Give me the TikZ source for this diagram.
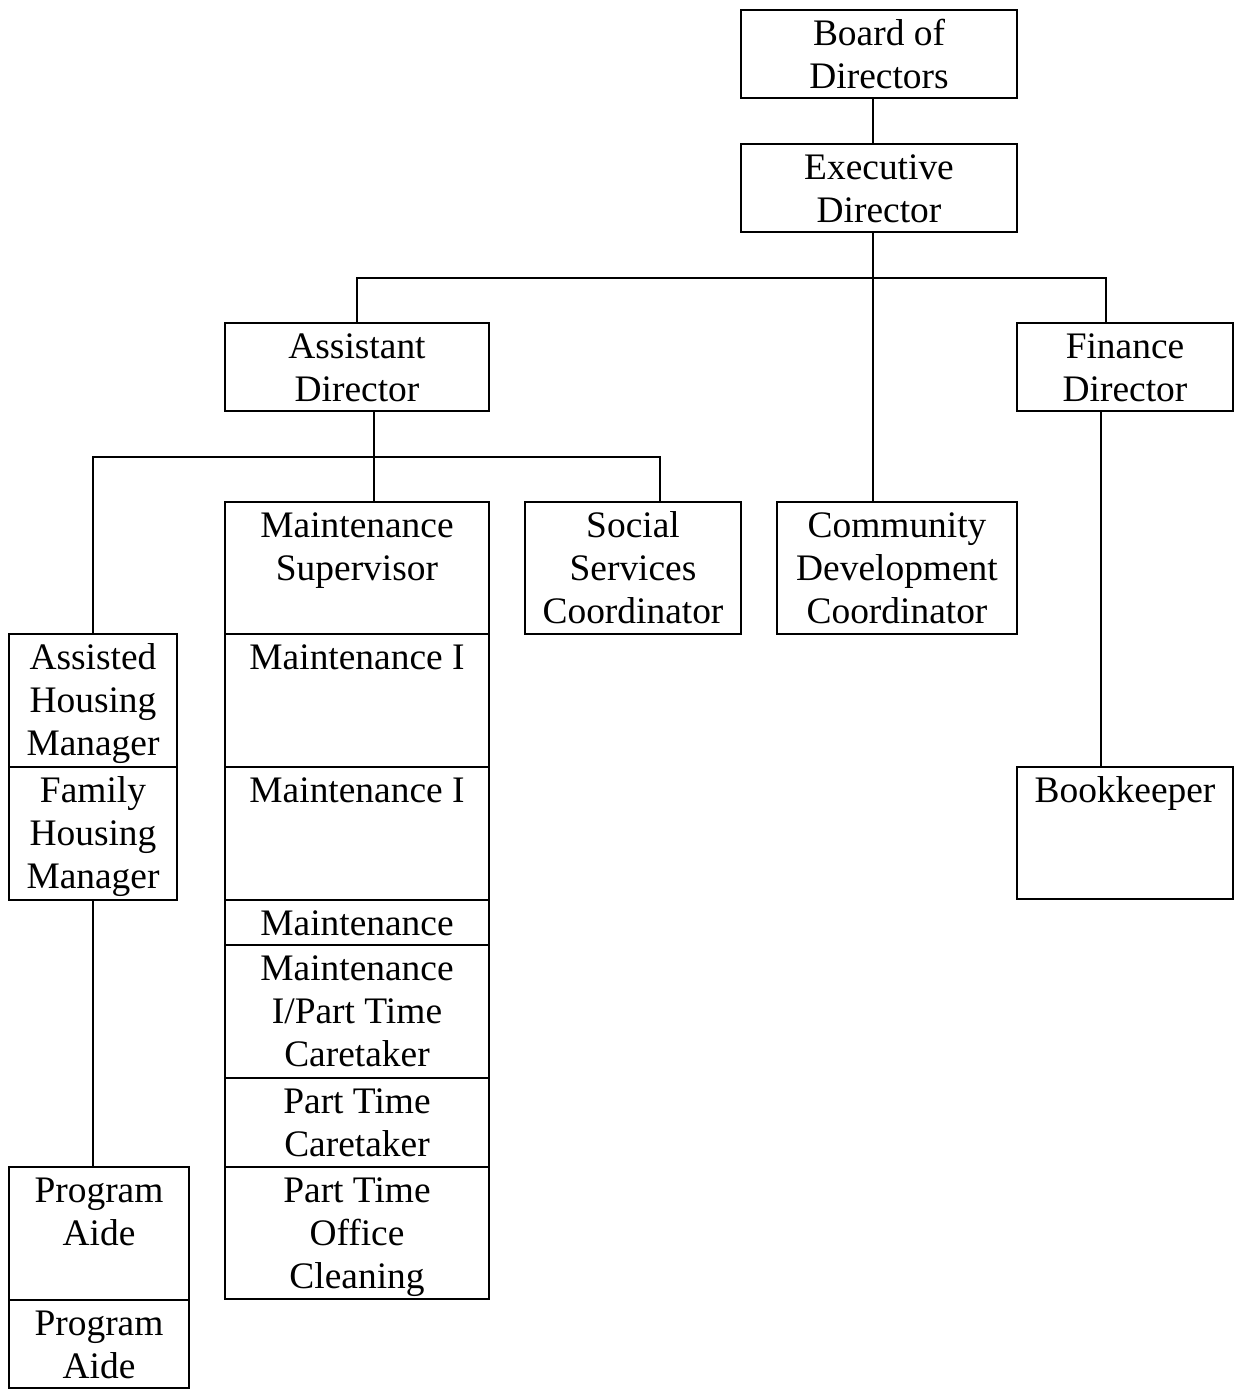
\documentclass[tikz,border=0pt]{standalone}
\usepackage{fontspec}
\setmainfont{Liberation Serif}
\usetikzlibrary{fit}

\begin{document}
\begin{tikzpicture}[x=0.02cm, y=-0.02cm,
  every node/.style={font=\fontsize{21.3}{24.47}\selectfont},
  post/.style={draw, line width=1.2pt, inner sep=0pt},
  title/.style={anchor=north, align=center, inner sep=0pt, yshift=-3.4pt},
  link/.style={line width=1.2pt}]
  \useasboundingbox (0,0) rectangle (1236,1389);
  % boxes
  \node[post, fit={(741,10) (1017,98)}] (board) {};
  \node[post, fit={(741,144) (1017,232)}] (exec) {};
  \node[post, fit={(225,323) (489,411)}] (asst) {};
  \node[post, fit={(1017,323) (1233,411)}] (fin) {};
  \node[post, fit={(225,502) (489,634)}] (msup) {};
  \node[post, fit={(525,502) (741,634)}] (social) {};
  \node[post, fit={(777,502) (1017,634)}] (comdev) {};
  \node[post, fit={(225,634) (489,767)}] (maintA) {};
  \node[post, fit={(225,767) (489,900)}] (maintB) {};
  \node[post, fit={(225,900) (489,945)}] (maintC) {};
  \node[post, fit={(225,945) (489,1078)}] (maintpt) {};
  \node[post, fit={(225,1078) (489,1167)}] (ptcare) {};
  \node[post, fit={(225,1167) (489,1299)}] (ptoffice) {};
  \node[post, fit={(9,634) (177,767)}] (assisted) {};
  \node[post, fit={(9,767) (177,900)}] (family) {};
  \node[post, fit={(9,1167) (189,1300)}] (aideA) {};
  \node[post, fit={(9,1300) (189,1388)}] (aideB) {};
  \node[post, fit={(1017,767) (1233,899)}] (bookk) {};
  % titles
  \node[title] at (board.north) {\strut Board of\\Directors};
  \node[title] at (exec.north) {\strut Executive\\Director};
  \node[title] at (asst.north) {\strut Assistant\\Director};
  \node[title] at (fin.north) {\strut Finance\\Director};
  \node[title] at (msup.north) {\strut Maintenance\\Supervisor};
  \node[title] at (social.north) {\strut Social\\Services\\Coordinator};
  \node[title] at (comdev.north) {\strut Community\\Development\\Coordinator};
  \node[title] at (maintA.north) {\strut Maintenance I};
  \node[title] at (maintB.north) {\strut Maintenance I};
  \node[title] at (maintC.north) {\strut Maintenance};
  \node[title] at (maintpt.north) {\strut Maintenance\\I/Part Time\\Caretaker};
  \node[title] at (ptcare.north) {\strut Part Time\\Caretaker};
  \node[title] at (ptoffice.north) {\strut Part Time\\Office\\Cleaning};
  \node[title] at (assisted.north) {\strut Assisted\\Housing\\Manager};
  \node[title] at (family.north) {\strut Family\\Housing\\Manager};
  \node[title] at (aideA.north) {\strut Program\\Aide};
  \node[title] at (aideB.north) {\strut Program\\Aide};
  \node[title] at (bookk.north) {\strut Bookkeeper};
  % connectors
  \coordinate (spine) at (873,278);
  \coordinate (branch) at (374,457);
  \coordinate (finx) at (1106,0);
  \coordinate (socx) at (660,0);
  \coordinate (bookx) at (1101,0);
  \draw[link] (board.south -| spine) -- (exec.north -| spine);
  \draw[link] (exec.south -| spine) -- (spine);
  \draw[link] (asst.north) |- (spine) -| (fin.north -| finx);
  \draw[link] (spine) -- (comdev.north -| spine);
  \draw[link] (asst.south -| branch) -- (branch);
  \draw[link] (assisted.north) |- (branch) -| (social.north -| socx);
  \draw[link] (branch) -- (msup.north -| branch);
  \draw[link] (family.south) -- (family.south |- aideA.north);
  \draw[link] (fin.south -| bookx) -- (bookk.north -| bookx);
\end{tikzpicture}
\end{document}
